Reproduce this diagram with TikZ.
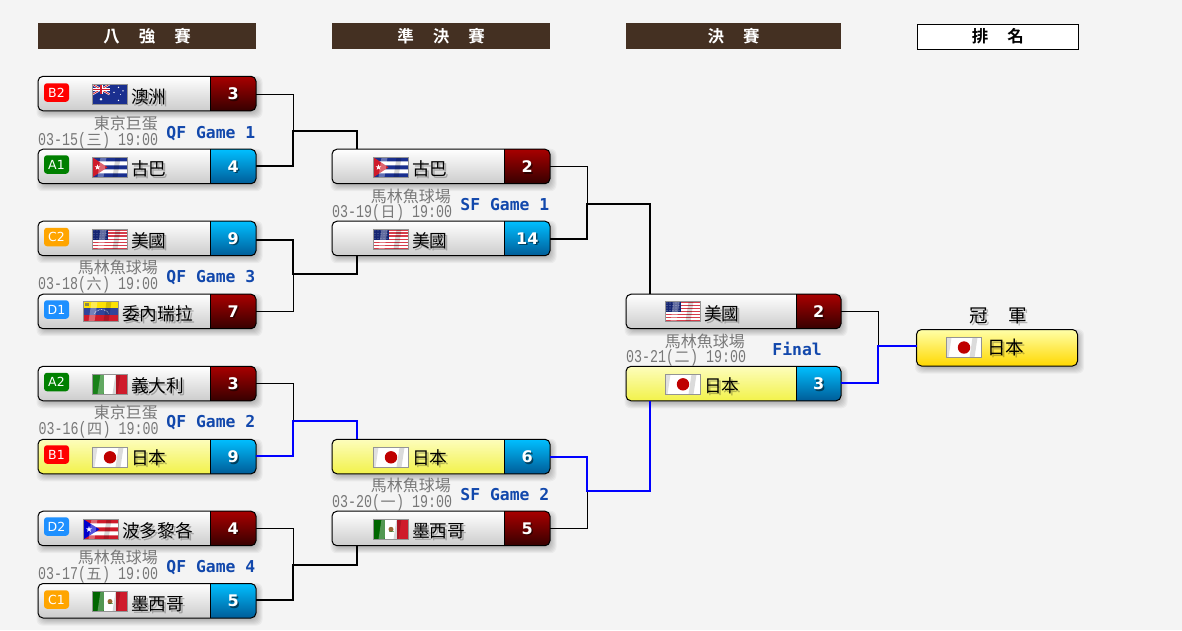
\documentclass[tikz,border=0pt]{standalone}
\usepackage{fontspec}
\newfontfamily\cjk{Noto Sans CJK TC}
\newfontfamily\cjkb{Noto Sans CJK TC Bold}
\newfontfamily\dvb{DejaVu Sans Bold}
\newfontfamily\dv{DejaVu Sans}
\newfontfamily\monob{DejaVu Sans Mono Bold}
\newfontfamily\datefont[FakeStretch=0.74]{Liberation Mono}
\definecolor{pagebg}{HTML}{F4F4F4}
\definecolor{headbg}{HTML}{443022}
\definecolor{gamec}{HTML}{1248AC}
\definecolor{venuec}{HTML}{787878}
\definecolor{lotop}{HTML}{A80000}
\definecolor{lobot}{HTML}{360000}
\definecolor{hitop}{HTML}{00BFFF}
\definecolor{hibot}{HTML}{005C98}
\definecolor{bluelink}{HTML}{0000FF}
\definecolor{flagblue}{HTML}{1A2F8F}
\definecolor{flagred}{HTML}{CF1B2B}
\definecolor{wintop}{HTML}{FDFDBC}
\definecolor{winbot}{HTML}{F2F24A}
\definecolor{chtop}{HTML}{FFFFA8}
\definecolor{chbot}{HTML}{FFD800}
\definecolor{seedgreen}{HTML}{008000}
\definecolor{seedorange}{HTML}{FFA500}
\definecolor{seedblue}{HTML}{1E90FF}
\tikzset{
  plainbody/.style={top color=white,bottom color=black!20},
  winbody/.style={top color=wintop,bottom color=winbot},
  champbody/.style={top color=chtop,bottom color=chbot},
  loscore/.style={top color=lotop,bottom color=lobot},
  hiscore/.style={top color=hitop,bottom color=hibot},
  boxnode/.style={inner sep=0pt,outer sep=0pt,rounded corners=5pt,anchor=north west},
  badge/.style={inner sep=0pt,rounded corners=3pt,minimum width=25pt,minimum height=18.5pt,text=white,font=\dv\fontsize{12.5}{14}\selectfont},
  headbar/.style={fill=headbg,text=white,inner sep=0pt,anchor=north west,minimum height=26pt,font=\cjkb\fontsize{16.5}{18}\selectfont},
  lose/.style={draw=black,line width=1pt},
  wink/.style={draw=black,line width=2pt},
  winb/.style={draw=bluelink,line width=2pt},
  flagedge/.style={draw=black!42,line width=1.1pt},
}
\def\sw{46}
\newcommand\softshadow[4]{%
  \foreach \e in {4,3,2,1,0,-1,-2,-3}{%
    \fill[black,opacity=.04,rounded corners=6pt]
      ({#1+2.5-\e},{#2+3.5-\e}) rectangle ({#1+#3+2.5+\e},{#2+#4+3.5+\e});}}
\newcommand\teambox[8]{% id x y w h body scorestyle score
  \softshadow{#2}{#3}{#4}{#5}
  \node[boxnode,#6,minimum width=#4pt,minimum height=#5pt] (#1) at (#2,#3) {};
  \begin{scope}
    \clip[rounded corners=5pt] (#1.north west) rectangle (#1.south east);
    \shade[#7] ([xshift=-\sw pt]#1.north east) rectangle (#1.south east);
  \end{scope}
  \draw[black,line width=1pt,rounded corners=5pt] (#1.north west) rectangle (#1.south east);
  \draw[black,line width=1pt] ([xshift=-\sw pt]#1.north east) -- ([xshift=-\sw pt]#1.south east);
  \node[inner sep=0pt,minimum width=\sw pt,minimum height=#5pt,anchor=north east] (#1s) at (#1.north east) {};
  \node[inner sep=0pt,text=black,text opacity=.5,font=\dvb\fontsize{16}{18}\selectfont,xshift=2pt,yshift=-1.5pt] (#1sh) at (#1s.center) {#8};
  \node[inner sep=0pt,text=white,font=\dvb\fontsize{16}{18}\selectfont,xshift=.5pt] (#1n) at (#1s.center) {#8};
}
\newcommand\shtext[6]{% name x y anchor colour text
  \node[inner sep=0pt,anchor=#4,text=black,text opacity=.25,xshift=2pt,yshift=-2pt] (#1sh) at (#2,#3) {#6};
  \node[inner sep=0pt,anchor=#4,text=#5] (#1) at (#2,#3) {#6};
}
\newcommand\teamname[4]{\shtext{#1}{#2}{#3}{base west}{black}{\cjk\fontsize{17.7}{20}\selectfont #4}}
\newcommand\matchinfo[9]{% id venue-right venue-y venue date-left date-y weekday game...
  \node[inner sep=0pt,anchor=base east,text=venuec,font=\cjk\fontsize{16}{18}\selectfont] (#1v) at (#2,#3) {#4};
  \node[inner sep=0pt,anchor=base west,text=venuec] (#1d) at (#5,#6) {\datefont\fontsize{18}{18}\selectfont #7(\makebox[16pt]{\cjk\fontsize{15}{18}\selectfont #8}) #9};
}
\newcommand\gametext[4]{\node[inner sep=0pt,anchor=base east,text=gamec,font=\monob\fontsize{16.4}{18}\selectfont] (#1) at (#2,#3) {#4};}
\newcommand\flagstar[3]{\fill[white,shift={(#1,#2)}] (-90:#3) -- (54:#3) -- (198:#3) -- (342:#3) -- (126:#3) -- cycle;}
\newcommand\flagwave{%
  \fill[black,opacity=.16] (23,0) -- (28,0) -- (25,20) -- (20,20) -- cycle;
  \fill[white,opacity=.32] (8,0) -- (14,0) -- (11,20) -- (5,20) -- cycle;
  \draw[flagedge] (0,0) rectangle (35,20);}
\newcommand\flagUS[2]{\begin{scope}[shift={(#1,#2)}]
  \fill[white] (0,0) rectangle (35,20);
  \foreach \i in {0,2,...,12}{\fill[flagred!85!white] (0,{\i*20/13}) rectangle (35,{(\i+1)*20/13});}
  \fill[flagblue!80!black] (0,0) rectangle (15,10.8);
  \foreach \a in {1.5,4.5,...,14}{\foreach \b in {1.5,4,...,10}{\fill[white,opacity=.45] (\a,\b) circle (.55);}}
  \flagwave\end{scope}}
\newcommand\flagCU[2]{\begin{scope}[shift={(#1,#2)}]
  \fill[white] (0,0) rectangle (35,20);
  \fill[flagblue] (0,0) rectangle (35,4) (0,8) rectangle (35,12) (0,16) rectangle (35,20);
  \fill[flagred] (0,0) -- (15,10) -- (0,20) -- cycle;
  \flagstar{5}{10}{3}
  \flagwave\end{scope}}
\newcommand\flagPR[2]{\begin{scope}[shift={(#1,#2)}]
  \fill[white] (0,0) rectangle (35,20);
  \fill[flagred] (0,0) rectangle (35,4) (0,8) rectangle (35,12) (0,16) rectangle (35,20);
  \fill[blue!80!black] (0,0) -- (16,10) -- (0,20) -- cycle;
  \flagstar{5.5}{10}{3.2}
  \flagwave\end{scope}}
\newcommand\flagAU[2]{\begin{scope}[shift={(#1,#2)}]
  \fill[flagblue] (0,0) rectangle (35,20);
  \draw[white,line width=2pt] (0,0) -- (17,10) (17,0) -- (0,10);
  \draw[flagred,line width=.8pt] (0,0) -- (17,10) (17,0) -- (0,10);
  \draw[white,line width=3pt] (8.5,0) -- (8.5,10) (0,5) -- (17,5);
  \draw[flagred,line width=1.6pt] (8.5,0) -- (8.5,10) (0,5) -- (17,5);
  \fill[white] (8.5,15) circle (1.4) (26,3) circle (.8) (26,16) circle (.8) (21.5,8) circle (.8) (30.5,6.5) circle (.8) (28,10) circle (.5);
  \draw[flagedge] (0,0) rectangle (35,20);\end{scope}}
\newcommand\flagVE[2]{\begin{scope}[shift={(#1,#2)}]
  \fill[yellow!85!orange] (0,0) rectangle (35,6.7);
  \fill[flagblue!90!white] (0,6.7) rectangle (35,13.4);
  \fill[flagred] (0,13.4) rectangle (35,20);
  \fill[black!50!yellow] (1.5,1.5) rectangle (5,4.5);
  \draw[white,line width=.6pt,dash pattern=on .8pt off .8pt] (11,12) arc[start angle=160,end angle=20,x radius=7.5,y radius=-6];
  \flagwave\end{scope}}
\newcommand\flagIT[2]{\begin{scope}[shift={(#1,#2)}]
  \fill[white] (0,0) rectangle (35,20);
  \fill[green!45!black!90!white] (0,0) rectangle (11.7,20);
  \fill[flagred] (23.3,0) rectangle (35,20);
  \flagwave\end{scope}}
\newcommand\flagMX[2]{\begin{scope}[shift={(#1,#2)}]
  \fill[white] (0,0) rectangle (35,20);
  \fill[green!40!black] (0,0) rectangle (11.7,20);
  \fill[flagred] (23.3,0) rectangle (35,20);
  \fill[brown!80!black] (17.5,10) circle (2.5);
  \fill[black!60!green,opacity=.5] (15,11.5) rectangle (20,12.5);
  \flagwave\end{scope}}
\newcommand\flagJP[2]{\begin{scope}[shift={(#1,#2)}]
  \fill[white] (0,0) rectangle (35,20);
  \fill[black,opacity=.12] (0,0) -- (5,0) -- (2,20) -- (0,20) -- cycle;
  \fill[black,opacity=.14] (26,0) -- (31,0) -- (28,20) -- (23,20) -- cycle;
  \fill[red!75!black] (17.5,10) circle (6.2);
  \draw[flagedge] (0,0) rectangle (35,20);\end{scope}}
\begin{document}
\begin{tikzpicture}[x=1pt,y=-1pt]
\useasboundingbox[fill=pagebg] (0,0) rectangle (1182,630);
% headers
\node[headbar,minimum width=218pt] (h1) at (38,23) {八\hspace{19pt}強\hspace{19pt}賽};
\node[headbar,minimum width=218pt] (h2) at (332,23) {準\hspace{19pt}決\hspace{19pt}賽};
\node[headbar,minimum width=215pt] (h3) at (626,23) {決\hspace{19pt}賽};
\node[headbar,minimum width=160.5pt,fill=white,text=black,draw=black,line width=1pt,minimum height=25pt] (h4) at (917,23.5) {排\hspace{19pt}名};
% quarter finals
\teambox{aus}{38}{76.3}{218}{34.5}{plainbody}{loscore}{3}
\teambox{cub}{38}{149.2}{218}{34.5}{plainbody}{hiscore}{4}
\teambox{usa}{38}{221.2}{218}{34.5}{plainbody}{hiscore}{9}
\teambox{ven}{38}{294.2}{218}{34.5}{plainbody}{loscore}{7}
\teambox{ita}{38}{366.3}{218}{34.5}{plainbody}{loscore}{3}
\teambox{jpn}{38}{439.3}{218}{34.5}{winbody}{hiscore}{9}
\teambox{pur}{38}{511.2}{218}{34.5}{plainbody}{loscore}{4}
\teambox{mex}{38}{583.5}{218}{34.5}{plainbody}{hiscore}{5}
% semi finals
\teambox{sfcub}{332}{149.2}{218}{34.5}{plainbody}{loscore}{2}
\teambox{sfusa}{332}{221.2}{218}{34.5}{plainbody}{hiscore}{14}
\teambox{sfjpn}{332}{439.3}{218}{34.5}{winbody}{hiscore}{6}
\teambox{sfmex}{332}{511.2}{218}{34.5}{plainbody}{loscore}{5}
% final
\def\sw{45}
\teambox{fusa}{626}{294.2}{215}{34.5}{plainbody}{loscore}{2}
\teambox{fjpn}{626}{366.3}{215}{34.5}{winbody}{hiscore}{3}
% champion
\softshadow{916.5}{329.5}{161}{36.5}
\node[boxnode,champbody,minimum width=161pt,minimum height=36.5pt] (champ) at (916.5,329.5) {};
\draw[black,line width=1pt,rounded corners=5pt] (champ.north west) rectangle (champ.south east);
% seed badges
\node[badge,fill=red] (bb2) at (56.5,92.5) {B2};
\node[badge,fill=seedgreen] (ba1) at (56.5,164.5) {A1};
\node[badge,fill=seedorange] (bc2) at (56.5,237) {C2};
\node[badge,fill=seedblue] (bd1) at (56.5,309.5) {D1};
\node[badge,fill=seedgreen] (ba2) at (56.5,382) {A2};
\node[badge,fill=red] (bb1) at (56.5,454.5) {B1};
\node[badge,fill=seedblue] (bd2) at (56.5,526.5) {D2};
\node[badge,fill=seedorange] (bc1) at (56.5,599.5) {C1};
% flags
\flagAU{92.5}{84.3}\flagCU{92.5}{157.3}\flagUS{92.5}{229.3}\flagVE{83.5}{301.5}
\flagIT{92.5}{374.3}\flagJP{92.5}{447.3}\flagPR{83.5}{519.3}\flagMX{92.5}{591.5}
\flagCU{373.5}{157.3}\flagUS{373.5}{229.3}\flagJP{373.5}{447.3}\flagMX{373.5}{519.3}
\flagUS{665.5}{301.5}\flagJP{665.5}{374.3}\flagJP{946.5}{337.5}
% team names
\teamname{taus}{131}{103.5}{澳洲}
\teamname{tcub}{131}{175}{古巴}
\teamname{tusa}{131}{247}{美國}
\teamname{tven}{122}{320}{委內瑞拉}
\teamname{tita}{131}{392.5}{義大利}
\teamname{tjpn}{131}{464.5}{日本}
\teamname{tpur}{122}{537}{波多黎各}
\teamname{tmex}{131}{610}{墨西哥}
\teamname{tsfcub}{412}{175}{古巴}
\teamname{tsfusa}{412}{247}{美國}
\teamname{tsfjpn}{412}{464.5}{日本}
\teamname{tsfmex}{412}{537}{墨西哥}
\teamname{tfusa}{704}{320}{美國}
\teamname{tfjpn}{704}{392.5}{日本}
\shtext{tchamp}{987}{354}{base west}{black}{\cjk\fontsize{18.5}{20}\selectfont 日本}
\shtext{tguan}{969}{322}{base west}{black}{\cjk\fontsize{18.5}{20}\selectfont 冠\hspace{20.5pt}軍}
% match info
\matchinfo{q1}{158}{129.5}{東京巨蛋}{38}{145.5}{03-15}{三}{19:00}
\matchinfo{q3}{158}{273.5}{馬林魚球場}{38}{289.5}{03-18}{六}{19:00}
\matchinfo{q2}{158}{418.5}{東京巨蛋}{38.5}{434.5}{03-16}{四}{19:00}
\matchinfo{q4}{158}{563.5}{馬林魚球場}{38}{579.5}{03-17}{五}{19:00}
\matchinfo{s1}{451}{202}{馬林魚球場}{332}{217.5}{03-19}{日}{19:00}
\matchinfo{s2}{451}{491.5}{馬林魚球場}{332}{507}{03-20}{一}{19:00}
\matchinfo{f1}{745}{347}{馬林魚球場}{626}{362.5}{03-21}{二}{19:00}
\gametext{g1}{255.5}{138.5}{QF Game 1}
\gametext{g3}{255.5}{282.5}{QF Game 3}
\gametext{g2}{255.5}{427.5}{QF Game 2}
\gametext{g4}{255.5}{572.5}{QF Game 4}
\gametext{g5}{549.5}{210.5}{SF Game 1}
\gametext{g6}{549.5}{500.5}{SF Game 2}
\gametext{g7}{822}{355.5}{Final}
% junctions
\coordinate (j1) at (293,131);
\coordinate (j2) at (293,274);
\coordinate (j3) at (293,421);
\coordinate (j4) at (293,565);
\coordinate (j5) at (587,204);
\coordinate (j6) at (587,491);
\coordinate (j7) at (878,346);
% connectors: losers first
\draw[lose] ([yshift=-1pt]auss.east) -| (j1);
\draw[lose] (vens.east) -| (j2);
\draw[lose] (itas.east) -| (j3);
\draw[lose] (purs.east) -| (j4);
\draw[lose] (sfcubs.east) -| (j5);
\draw[lose] (sfmexs.east) -| (j6);
\draw[lose] (fusas.east) -| (j7);
\draw[wink] ([yshift=1pt]cubs.east) -| (j1) -| ([xshift=25pt]sfcub.north west);
\draw[wink] ([yshift=-1pt]usas.east) -| (j2) -| ([xshift=25pt]sfusa.south west);
\draw[winb] ([yshift=1pt]jpns.east) -| (j3) -| ([xshift=25pt]sfjpn.north west);
\draw[wink] ([yshift=1pt]mexs.east) -| (j4) -| ([xshift=25pt]sfmex.south west);
\draw[wink] (sfusas.east) -| (j5) -| ([xshift=24pt]fusa.north west);
\draw[winb] (sfjpns.east) -| (j6) -| ([xshift=24pt]fjpn.south west);
\draw[winb] ([yshift=1pt]fjpns.east) -| (j7) -- (champ.west |- j7);
\end{tikzpicture}
\end{document}
